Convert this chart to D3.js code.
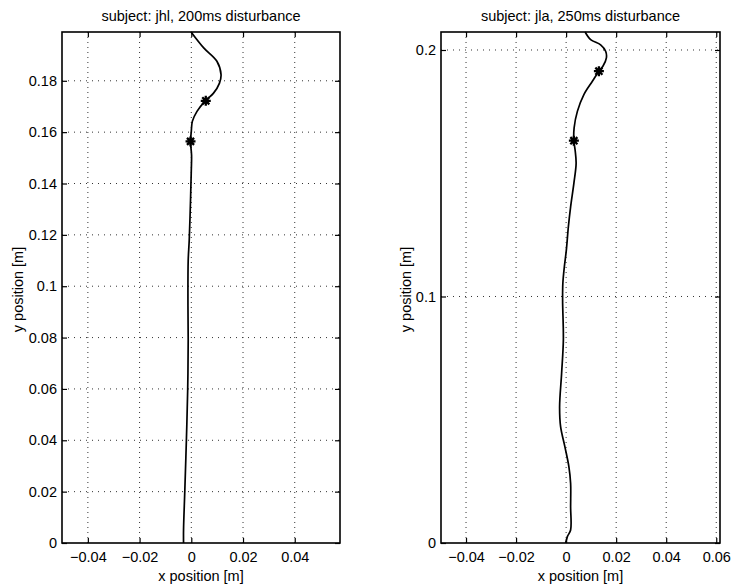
<!DOCTYPE html>
<html>
<head>
<meta charset="utf-8">
<script src="https://cdn.jsdelivr.net/npm/d3@7"></script>
<style>
  body { margin: 0; background: #fff; }
  svg { display: block; }
  text { font-family: "Liberation Sans", Arial, sans-serif; fill: #000; }
</style>
</head>
<body>
<svg id="chart" width="733" height="587"></svg>
<script>
// ---- data ----
const leftTitle = "subject: jhl, 200ms disturbance";
const rightTitle = "subject: jla, 250ms disturbance";
const xLabel = "x position [m]";
const yLabel = "y position [m]";

const leftXTicks = [-0.04, -0.02, 0, 0.02, 0.04];
const leftYTicks = [0, 0.02, 0.04, 0.06, 0.08, 0.1, 0.12, 0.14, 0.16, 0.18];
const rightXTicks = [-0.04, -0.02, 0, 0.02, 0.04, 0.06];
const rightYTicks = [0, 0.1, 0.2];

const leftXDomain = [-0.05, 0.0575];
const leftYDomain = [0, 0.199];
const rightXDomain = [-0.05, 0.0615];
const rightYDomain = [0, 0.2073];

const leftPathX = [-0.0030, -0.0030, -0.0025, -0.0019, -0.0014, -0.0012, -0.0013, -0.0012, -0.0008, -0.0003, 0.0000, 0.0001, -0.0003, 0.0000, 0.0004, 0.0022, 0.0054, 0.0086, 0.0109, 0.0115, 0.0099, 0.0048, -0.0001];
const leftPathY = [0.0, 0.0051, 0.0206, 0.0401, 0.0596, 0.0790, 0.0950, 0.1100, 0.1180, 0.1336, 0.1452, 0.1510, 0.1564, 0.1603, 0.1642, 0.1681, 0.1722, 0.1752, 0.1791, 0.1824, 0.1876, 0.1928, 0.1990];
const leftStarX = [-0.0003, 0.0056];
const leftStarY = [0.1564, 0.1722];

const rightPathX = [-0.0002, 0.0005, 0.0018, 0.0018, 0.0018, 0.0011, -0.0005, -0.0022, -0.0026, -0.0018, -0.0011, -0.0014, -0.0013, -0.0007, 0.0001, 0.0009, 0.0018, 0.0031, 0.0040, 0.0036, 0.0031, 0.0032, 0.0045, 0.0071, 0.0105, 0.0131, 0.0147, 0.0161, 0.0158, 0.0138, 0.0098, 0.0076];
const rightPathY = [0.0, 0.0026, 0.0053, 0.0147, 0.0242, 0.0310, 0.0391, 0.0472, 0.0553, 0.0688, 0.0824, 0.0986, 0.1054, 0.1121, 0.1189, 0.1283, 0.1364, 0.1459, 0.1540, 0.1594, 0.1632, 0.1684, 0.1751, 0.1819, 0.1873, 0.1914, 0.1934, 0.1968, 0.1995, 0.2021, 0.2042, 0.2073];
const rightStarX = [0.0031, 0.0131];
const rightStarY = [0.1632, 0.1914];

// ---- drawing ----
const svg = d3.select("#chart");
const FS = 14.5;

function fmt(v) {
  if (v === 0) return "0";
  let s = String(+v.toFixed(4));
  return s.replace("-", "\u2212");
}

function starPath(r) {
  let p = "";
  for (let k = 0; k < 4; k++) {
    const a = k * Math.PI / 4;
    const dx = r * Math.cos(a), dy = r * Math.sin(a);
    p += `M${-dx},${-dy}L${dx},${dy}`;
  }
  return p;
}

function panel(cfg) {
  const x = d3.scaleLinear().domain(cfg.xDomain).range([cfg.left, cfg.right]);
  const y = d3.scaleLinear().domain(cfg.yDomain).range([cfg.bottom, cfg.top]);
  const g = svg.append("g");

  // grid
  const gridX = cfg.xTicks.filter(v => x(v) > cfg.left + 1 && x(v) < cfg.right - 1);
  const gridY = cfg.yTicks.filter(v => y(v) < cfg.bottom - 1 && y(v) > cfg.top + 1);
  g.selectAll(".gx").data(gridX).join("line")
    .attr("x1", d => x(d)).attr("x2", d => x(d))
    .attr("y1", cfg.top).attr("y2", cfg.bottom)
    .attr("stroke", "#333").attr("stroke-width", 1).attr("stroke-dasharray", "1,4");
  g.selectAll(".gy").data(gridY).join("line")
    .attr("y1", d => y(d)).attr("y2", d => y(d))
    .attr("x1", cfg.left).attr("x2", cfg.right)
    .attr("stroke", "#333").attr("stroke-width", 1).attr("stroke-dasharray", "1,5");

  // axes using d3 axis (inward ticks)
  const tl = 5;
  const axB = g.append("g").attr("transform", `translate(0,${cfg.bottom})`)
    .call(d3.axisBottom(x).tickValues(cfg.xTicks).tickSize(-tl).tickPadding(9).tickFormat(fmt));
  const axT = g.append("g").attr("transform", `translate(0,${cfg.top})`)
    .call(d3.axisTop(x).tickValues(cfg.xTicks).tickSize(-tl).tickFormat(""));
  const axL = g.append("g").attr("transform", `translate(${cfg.left},0)`)
    .call(d3.axisLeft(y).tickValues(cfg.yTicks).tickSize(-tl).tickPadding(5).tickFormat(fmt));
  const axR = g.append("g").attr("transform", `translate(${cfg.right},0)`)
    .call(d3.axisRight(y).tickValues(cfg.yTicks).tickSize(-tl).tickFormat(""));
  [axB, axT, axL, axR].forEach(a => {
    a.select(".domain").remove();
    a.selectAll(".tick line").attr("stroke", "#000").attr("stroke-width", 1.2);
    a.selectAll("text").attr("font-size", FS).attr("font-family", "Liberation Sans, Arial, sans-serif").attr("fill", "#000");
  });

  // box
  g.append("rect").attr("x", cfg.left).attr("y", cfg.top)
    .attr("width", cfg.right - cfg.left).attr("height", cfg.bottom - cfg.top)
    .attr("fill", "none").attr("stroke", "#000").attr("stroke-width", 1.6);

  // trajectory
  const pts = cfg.px.map((v, i) => [v, cfg.py[i]]);
  const line = d3.line().x(d => x(d[0])).y(d => y(d[1])).curve(d3.curveCatmullRom.alpha(0.5));
  g.append("path").attr("d", line(pts)).attr("fill", "none")
    .attr("stroke", "#000").attr("stroke-width", 1.7);

  // star markers
  const stars = cfg.sx.map((v, i) => [v, cfg.sy[i]]);
  g.selectAll(".star").data(stars).join("path")
    .attr("transform", d => `translate(${x(d[0])},${y(d[1])})`)
    .attr("d", starPath(5))
    .attr("stroke", "#000").attr("stroke-width", 2.3).attr("fill", "none");

  // title and labels
  const cx = (cfg.left + cfg.right) / 2;
  g.append("text").attr("x", cx).attr("y", 21).attr("text-anchor", "middle")
    .attr("font-size", FS).text(cfg.title);
  g.append("text").attr("x", cx).attr("y", 581).attr("text-anchor", "middle")
    .attr("font-size", FS).text(xLabel);
  g.append("text").attr("transform", `translate(${cfg.ylabX},${(cfg.top + cfg.bottom) / 2 + 2}) rotate(-90)`)
    .attr("text-anchor", "middle").attr("font-size", FS).text(yLabel);
}

panel({
  left: 62, right: 340, top: 32, bottom: 543,
  xDomain: leftXDomain, yDomain: leftYDomain,
  xTicks: leftXTicks, yTicks: leftYTicks,
  px: leftPathX, py: leftPathY, sx: leftStarX, sy: leftStarY,
  title: leftTitle, ylabX: 23
});
panel({
  left: 441, right: 720, top: 32, bottom: 543,
  xDomain: rightXDomain, yDomain: rightYDomain,
  xTicks: rightXTicks, yTicks: rightYTicks,
  px: rightPathX, py: rightPathY, sx: rightStarX, sy: rightStarY,
  title: rightTitle, ylabX: 411
});
</script>
</body>
</html>
